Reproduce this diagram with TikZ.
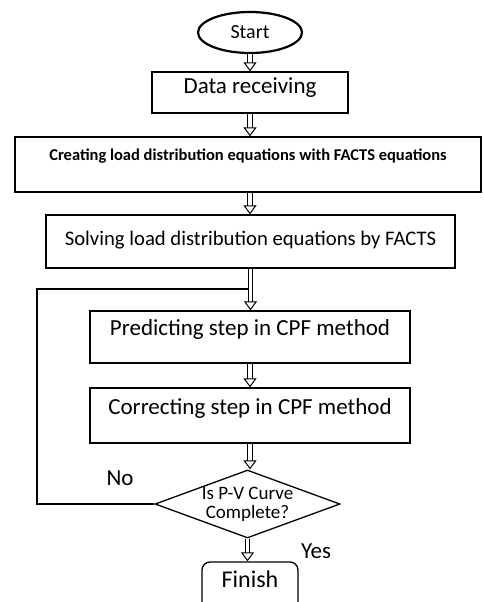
\documentclass[tikz,border=0pt]{standalone}
\usepackage{fontspec}
\setmainfont{Carlito}
\usetikzlibrary{shapes.geometric,arrows.meta}

\begin{document}
\begin{tikzpicture}[x=1pt,y=-1pt,
  box/.style={draw,line width=1.3pt,inner xsep=0pt,inner ysep=0pt},
  hollow/.style={double,double distance=3.2pt,line width=1pt,-{Triangle[open,length=9pt,width=13pt]}},
  loopline/.style={line width=1.3pt}]
\useasboundingbox (0,0) rectangle (483,602);
% nodes
\node[draw,ellipse,line width=2.2pt,inner sep=0pt,minimum width=104pt,minimum height=41pt,font=\fontsize{20}{22}\selectfont] (start) at (250,32.5) {Start};
\node[box,minimum width=196pt,text height=21pt,text depth=20pt,font=\fontsize{23}{25}\selectfont] (data) at (250,92.5) {Data receiving};
\node[box,minimum width=466pt,text height=23pt,text depth=32pt,font=\fontsize{16.5}{18}\selectfont\bfseries] (create) at (248,164.5) {Creating load distribution equations with FACTS equations};
\node[box,minimum width=409pt,text height=30pt,text depth=23pt,font=\fontsize{20.7}{22}\selectfont] (solve) at (250.5,241.5) {Solving load distribution equations by FACTS};
\node[box,minimum width=320pt,text height=24pt,text depth=28pt,font=\fontsize{23}{25}\selectfont] (predict) at (250,337) {Predicting step in CPF method};
\node[box,minimum width=320pt,text height=26pt,text depth=29pt,font=\fontsize{23}{25}\selectfont] (correct) at (250,415.5) {Correcting step in CPF method};
\node[draw,diamond,line width=1.3pt,inner sep=-20pt,minimum width=185pt,minimum height=68pt,align=center,font=\fontsize{19}{19}\selectfont] (check) at (247.5,504) {Is P-V Curve\\Complete?};
\node[box,rounded corners=8pt,minimum width=96pt,text height=25pt,text depth=23pt,font=\fontsize{24}{26}\selectfont] (finish) at (250,586) {Finish};
\node[font=\fontsize{23}{25}\selectfont] (no) at (120,478) {No};
\node[font=\fontsize{23}{25}\selectfont] (yes) at (316,551) {Yes};
\coordinate (corner) at (37,289);
% connectors
\draw[hollow] (start.south) -- (data.north);
\draw[hollow] (data.south) -- (data.south |- create.north);
\draw[hollow] (data.south |- create.south) -- (data.south |- solve.north);
\draw[loopline] (check.west) -| (corner) -- (solve.south |- corner);
\draw[hollow] (solve.south) -- (solve.south |- predict.north);
\draw[hollow] (predict.south) -- (correct.north);
\draw[hollow] (correct.south) -- (correct.south |- check.north);
\draw[hollow] (check.south) -- (check.south |- finish.north);
\end{tikzpicture}
\end{document}
